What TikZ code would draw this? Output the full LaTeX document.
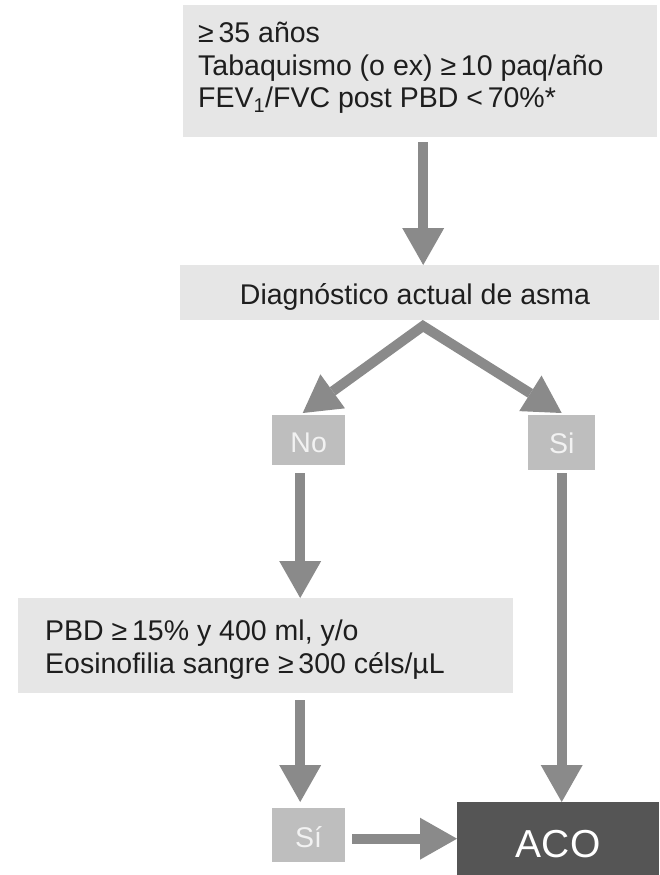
\documentclass[tikz,border=0pt]{standalone}
\usepackage{fontspec}
\setmainfont{Liberation Sans}
\usetikzlibrary{arrows.meta}
\definecolor{boxgray}{HTML}{E6E6E6}
\definecolor{arrowgray}{HTML}{8A8A8A}
\definecolor{smallgray}{HTML}{BEBEBE}
\definecolor{smalltext}{HTML}{F2F2F2}
\definecolor{acogray}{HTML}{555555}
\definecolor{textdark}{HTML}{1E1E1E}
\begin{document}
\begin{tikzpicture}[x=1pt,y=-1pt,
  box/.style={fill=boxgray, draw=none, inner sep=0pt, anchor=north west},
  txt/.style={text=textdark, inner sep=0pt, anchor=base west, font=\fontsize{28.5}{33}\selectfont},
  smallbox/.style={fill=smallgray, text=smalltext, draw=none, inner sep=0pt, anchor=north west,
    font=\fontsize{28.5}{32}\selectfont, text depth=0pt},
  acobox/.style={fill=acogray, text=white, draw=none, inner sep=0pt, anchor=north west,
    font=\fontsize{39}{44}\selectfont, text depth=0pt, text height=37pt},
  arr/.style={draw=arrowgray, line width=10pt,
    -{Triangle[width=42pt,length=37pt,line width=0pt]}},
  arrtwo/.style={draw=arrowgray, line width=10pt, line join=miter,
    {Triangle[width=42pt,length=37pt,line width=0pt]}-{Triangle[width=42pt,length=37pt,line width=0pt]}}
]
\useasboundingbox (0,0) rectangle (659,875);

% boxes
\node[box, minimum width=474pt, minimum height=132pt] (b1) at (183,5) {};
\node[box, minimum width=479pt, minimum height=55pt] (b2) at (180,265) {};
\node[smallbox, minimum width=73pt, minimum height=50pt, text height=24pt] (no) at (272,415) {No};
\node[smallbox, minimum width=67pt, minimum height=55pt, text height=21pt] (si1) at (528,415) {Si};
\node[box, minimum width=495pt, minimum height=95pt] (b3) at (18,598) {};
\node[smallbox, minimum width=73pt, minimum height=54pt, text height=24pt] (si2) at (272,808) {Sí};
\node[acobox, minimum width=202pt, minimum height=73pt] (aco) at (457,802) {ACO};

% texts
\node[txt] (t1) at (198,43) {≥\,35 años};
\node[txt] (t2) at (198,75) {Tabaquismo (o ex) ≥\,10 paq/año};
\node[txt] (t3) at (198,107) {FEV\textsubscript{1}/FVC post PBD <\,70\%*};
\node[txt, anchor=base] (m) at (415,304) {Diagnóstico actual de asma};
\node[txt] (p1) at (45,640) {PBD ≥\,15\% y 400 ml, y/o};
\node[txt] (p2) at (45,673) {Eosinofilia sangre ≥\,300 céls/µL};

% connectors
\coordinate (ap) at (423,326);
\draw[arr] ([xshift=3pt,yshift=-5pt]b1.south) -- ([xshift=3pt]b1.south |- b2.north);
\draw[arrtwo] ([xshift=-6pt,yshift=2pt]no.north) -- (ap) -- ([yshift=2pt]si1.north);
\draw[arr] ([xshift=-8.5pt,yshift=-8pt]no.south) -- ([xshift=-8.5pt]no.south |- b3.north);
\draw[arr] ([xshift=-8.5pt,yshift=-7pt]si2.north |- b3.south) -- ([xshift=-8.5pt,yshift=6pt]si2.north);
\draw[arr] ([xshift=7pt]si2.east |- aco.west) -- (aco.west);
\draw[arr] ([yshift=-3pt]si1.south) -- (si1.south |- aco.north);
\end{tikzpicture}
\end{document}
